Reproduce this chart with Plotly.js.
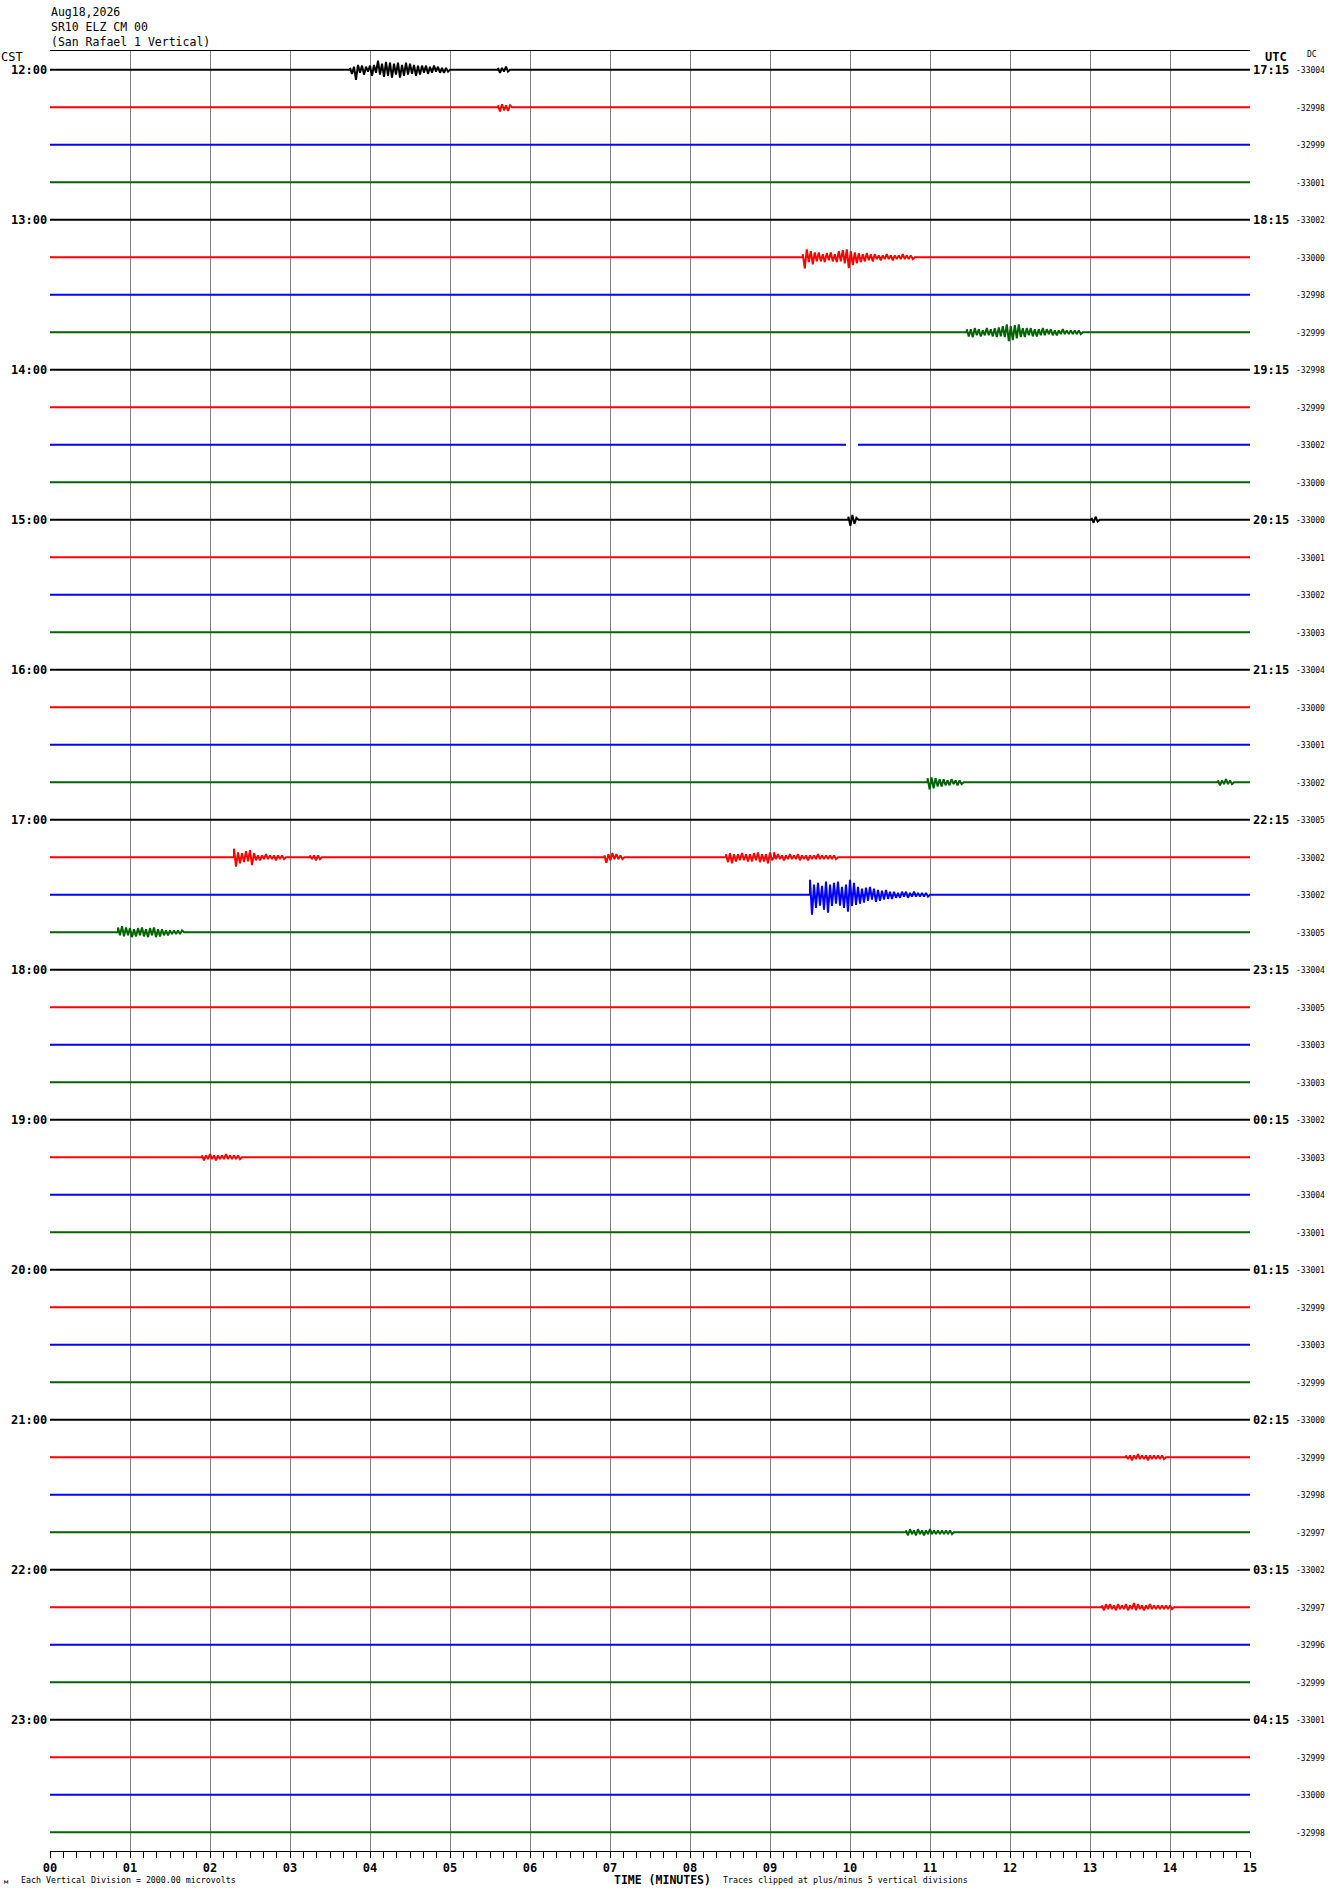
<!DOCTYPE html>
<html>
<head>
<meta charset="utf-8">
<script src="https://cdn.plot.ly/plotly-3.0.1.min.js"></script>
<style>
  html, body { margin: 0; padding: 0; background: #ffffff; }
  #chart { width: 1330px; height: 1894px; }
</style>
</head>
<body>
<div id="chart"></div>
<script>
// ---------------- data ----------------
const headerLines = ['Aug18,2026', 'SR10 ELZ CM 00', '(San Rafael 1 Vertical)'];
const minuteLabels = ['00','01','02','03','04','05','06','07','08','09','10','11','12','13','14','15'];
const minuteValues = [0,1,2,3,4,5,6,7,8,9,10,11,12,13,14,15];
const cstHours = ['12:00','13:00','14:00','15:00','16:00','17:00','18:00','19:00','20:00','21:00','22:00','23:00'];
const utcHours = ['17:15','18:15','19:15','20:15','21:15','22:15','23:15','00:15','01:15','02:15','03:15','04:15'];
const dcValues = [
  -33004,-32998,-32999,-33001,
  -33002,-33000,-32998,-32999,
  -32998,-32999,-33002,-33000,
  -33000,-33001,-33002,-33003,
  -33004,-33000,-33001,-33002,
  -33005,-33002,-33002,-33005,
  -33004,-33005,-33003,-33003,
  -33002,-33003,-33004,-33001,
  -33001,-32999,-33003,-32999,
  -33000,-32999,-32998,-32997,
  -33002,-32997,-32996,-32999,
  -33001,-32999,-33000,-32998
];
const rowPalette = ['#000000', '#ff0000', '#0000ff', '#006400'];

// seismic events: row index, start minute, deflections (fraction of trace spacing) every eventStep minutes
const eventStep = 0.025;
const eventRows   = [0, 0, 1, 5, 7, 12, 12, 19, 19, 21, 21, 21, 21, 21, 22, 23, 29, 37, 39, 41];
const eventStarts = [3.75, 5.6, 5.6, 9.41, 11.46, 9.98, 13.02, 10.97, 14.6, 2.3, 3.25, 6.93, 8.45, 9.05, 9.5, 0.85, 1.9, 13.45, 10.7, 13.15];
const eventWiggles = [
  // 12:00 black
  [0.05,-0.11,0.08,-0.27,0.13,-0.08,0.11,-0.13,0.08,-0.05,0.11,-0.16,0.13,-0.08,
   0.24,-0.13,0.16,-0.19,0.21,-0.16,0.19,-0.21,0.16,-0.13,0.19,-0.21,0.13,-0.16,0.19,-0.13,0.16,-0.11,0.13,-0.16,0.11,-0.13,
   0.11,-0.08,0.11,-0.11,0.08,-0.08,0.11,-0.05,0.08,-0.08,0.05,-0.08,0.05,-0.05],
  [0.05,-0.08,0.05,-0.05,0.08,-0.05],
  // 12:15 red
  [0.05,-0.11,0.08,-0.08,0.05,-0.1,0.05],
  // 13:15 red
  [0.08,-0.3,0.21,-0.13,0.16,-0.19,0.13,-0.11,
   0.13,-0.11,0.08,-0.13,0.11,-0.08,0.13,-0.11,0.08,-0.13,0.16,-0.11,0.19,-0.16,
   0.21,-0.29,
   0.16,-0.21,0.13,-0.16,0.11,-0.13,0.08,-0.11,0.11,-0.08,0.08,-0.11,0.08,-0.05,
   0.05,-0.08,0.05,-0.05,0.08,-0.05,0.05,-0.08,0.05,-0.05,0.05,-0.05,0.08,-0.05,0.05,-0.05,0.05,-0.05],
  // 13:45 green
  [0.08,-0.11,0.08,-0.13,0.11,-0.08,0.08,-0.11,0.05,-0.08,0.11,-0.08,0.08,-0.11,
   0.11,-0.13,0.13,-0.11,0.16,-0.13,
   0.21,-0.24,0.16,-0.21,0.19,-0.16,0.21,-0.13,
   0.11,-0.13,0.11,-0.08,0.11,-0.11,0.08,-0.11,0.08,-0.08,0.11,-0.08,0.08,-0.05,0.08,-0.08,0.05,-0.08,
   0.05,-0.05,0.08,-0.05,0.05,-0.05,0.05,-0.05,0.05,-0.05,0.05,-0.05],
  // 15:00 black
  [0.08,-0.16,0.13,-0.11,0.05],
  [0.05,-0.08,0.08,-0.05],
  // 16:45 green
  [0.11,-0.19,0.13,-0.16,0.11,-0.11,0.08,-0.11,0.08,-0.08,0.05,-0.08,0.08,-0.05,0.05,-0.08,0.05,-0.05],
  [0.05,-0.08,0.05,-0.05,0.08,-0.05,0.05,-0.05],
  // 17:15 red
  [0.23,-0.25,0.13,-0.16,0.11,-0.13,0.16,-0.11,0.19,-0.21,0.11,-0.08,
   0.05,-0.08,0.05,-0.05,0.08,-0.05,0.05,-0.05,0.05,-0.08,0.05,-0.05,0.05,-0.05],
  [0.05,-0.05,0.05,-0.08,0.05,-0.05],
  [0.05,-0.15,0.08,-0.08,0.11,-0.05,0.08,-0.05,0.05,-0.05],
  [0.08,-0.13,0.11,-0.16,0.08,-0.11,0.08,-0.08,0.11,-0.08,0.08,-0.11,0.08,-0.11,0.11,-0.08,0.13,-0.13,0.08,-0.11,0.08,-0.16,0.13,-0.08],
  [0.13,-0.05,0.08,-0.05,0.05,-0.08,0.05,-0.05,0.08,-0.05,0.05,-0.05,0.08,-0.08,0.05,-0.05,0.05,-0.08,0.05,-0.05,0.05,-0.05,0.08,-0.05,0.05,-0.05,0.05,-0.05,0.05,-0.05,0.05,-0.05],
  // 17:30 blue
  [0.4,-0.53,0.27,-0.35,0.32,-0.29,0.24,-0.4,0.35,-0.48,0.27,-0.3,0.32,-0.24,0.35,-0.29,0.21,-0.35,0.27,-0.45,0.4,-0.3,
   0.32,-0.27,0.21,-0.24,0.16,-0.21,0.19,-0.16,0.21,-0.13,0.16,-0.19,0.13,-0.16,0.11,-0.13,0.13,-0.11,0.08,-0.11,
   0.08,-0.08,0.05,-0.08,0.08,-0.05,0.08,-0.08,0.05,-0.05,0.08,-0.05,0.05,-0.05,0.05,-0.05,0.05,-0.05],
  // 17:45 green
  [0.13,-0.08,0.16,-0.11,0.13,-0.08,0.11,-0.13,
   0.08,-0.11,0.11,-0.08,0.13,-0.11,0.08,-0.13,0.11,-0.08,0.13,-0.13,0.08,-0.11,0.08,-0.08,
   0.05,-0.08,0.05,-0.05,0.05,-0.05,0.05,-0.05,0.05],
  // 19:15 red
  [0.05,-0.08,0.05,-0.05,0.08,-0.05,0.05,-0.08,0.05,-0.05,0.05,-0.05,0.08,-0.05,0.05,-0.05,0.05,-0.05,0.05,-0.05],
  // 21:15 red
  [0.05,-0.05,0.05,-0.08,0.05,-0.05,0.08,-0.05,0.05,-0.05,0.05,-0.08,0.05,-0.05,0.05,-0.05,0.05,-0.05,0.05,-0.05],
  // 21:45 green
  [0.05,-0.08,0.08,-0.05,0.05,-0.08,0.08,-0.05,0.05,-0.08,0.05,-0.05,0.08,-0.05,0.05,-0.05,0.05,-0.05,0.05,-0.05,0.05,-0.05,0.05,-0.05],
  // 22:15 red
  [0.05,-0.08,0.08,-0.05,0.08,-0.05,0.05,-0.08,0.08,-0.05,0.05,-0.05,0.08,-0.08,0.05,-0.05,0.11,-0.08,0.08,-0.05,0.05,-0.08,0.05,-0.05,0.08,-0.05,0.05,-0.05,0.05,-0.05,0.05,-0.05,0.05,-0.05,0.05,-0.05]
];
// data gaps
const gapRows = [10];
const gapStarts = [9.95];
const gapEnds = [10.1];

// ---------------- build ----------------
const ROWS = dcValues.length;
const traces = [];
for (let r = 0; r < ROWS; r++) {
  const base = -r;
  const feats = [];
  eventRows.forEach((er, i) => { if (er === r) feats.push({type: 'ev', s: eventStarts[i], w: eventWiggles[i]}); });
  gapRows.forEach((gr, i) => { if (gr === r) feats.push({type: 'gap', s: gapStarts[i], e: gapEnds[i]}); });
  feats.sort((a, b) => a.s - b.s);
  const xs = [0], ys = [base];
  feats.forEach(f => {
    if (f.type === 'ev') {
      xs.push(f.s); ys.push(base);
      f.w.forEach((v, k) => { xs.push(f.s + k * eventStep); ys.push(base + v); });
      xs.push(f.s + f.w.length * eventStep); ys.push(base);
    } else {
      xs.push(f.s); ys.push(base);
      xs.push(null); ys.push(null);
      xs.push(f.e); ys.push(base);
    }
  });
  xs.push(15); ys.push(base);
  traces.push({
    type: 'scatter', mode: 'lines', x: xs, y: ys,
    line: {color: rowPalette[r % 4], width: 2},
    hoverinfo: 'skip', showlegend: false, connectgaps: false
  });
}

// geometry helpers for annotation placement (pixels -> paper)
const L = 50, T = 51, W = 1200, H = 1800;
const px = v => (v - L) / W;
const py = v => 1 - (v - T) / H;

const mono = 'DejaVu Sans Mono, monospace';
const ann = [];
headerLines.forEach((t, i) => {
  ann.push({text: t, xref: 'paper', yref: 'paper', x: px(49), y: py(12 + i * 15), xanchor: 'left', yanchor: 'middle',
            showarrow: false, font: {family: mono, size: 11.5, color: '#000'}});
});
ann.push({text: 'CST', xref: 'paper', yref: 'paper', x: px(-1), y: py(57), xanchor: 'left', yanchor: 'middle',
          showarrow: false, font: {family: mono, size: 12, color: '#000'}});
ann.push({text: 'UTC', xref: 'paper', yref: 'paper', x: px(1263), y: py(57), xanchor: 'left', yanchor: 'middle',
          showarrow: false, font: {family: mono, size: 12, color: '#000', weight: 'bold'}});
ann.push({text: 'DC', xref: 'paper', yref: 'paper', x: px(1305), y: py(54), xanchor: 'left', yanchor: 'middle',
          showarrow: false, font: {family: mono, size: 8, color: '#000'}});
cstHours.forEach((t, i) => {
  ann.push({text: t, xref: 'paper', yref: 'y', x: px(49), y: -4 * i, xanchor: 'right', yanchor: 'middle',
            showarrow: false, font: {family: mono, size: 12, color: '#000', weight: 'bold'}});
});
utcHours.forEach((t, i) => {
  ann.push({text: t, xref: 'paper', yref: 'y', x: px(1251), y: -4 * i, xanchor: 'left', yanchor: 'middle',
            showarrow: false, font: {family: mono, size: 12, color: '#000', weight: 'bold'}});
});
dcValues.forEach((v, i) => {
  ann.push({text: String(v), xref: 'paper', yref: 'y', x: px(1294), y: -i, yshift: -1, xanchor: 'left', yanchor: 'middle',
            showarrow: false, font: {family: mono, size: 8, color: '#000'}});
});
ann.push({text: 'TIME (MINUTES)', xref: 'paper', yref: 'paper', x: px(662), y: py(1880), xanchor: 'center', yanchor: 'middle',
          showarrow: false, font: {family: mono, size: 11.5, color: '#000', weight: 'bold'}});
ann.push({text: 'Each Vertical Division = 2000.00 microvolts', xref: 'paper', yref: 'paper', x: px(19), y: py(1880),
          xanchor: 'left', yanchor: 'middle', showarrow: false, font: {family: mono, size: 8.3, color: '#000'}});
ann.push({text: 'Traces clipped at plus/minus 5 vertical divisions', xref: 'paper', yref: 'paper', x: px(721), y: py(1880),
          xanchor: 'left', yanchor: 'middle', showarrow: false, font: {family: mono, size: 8.3, color: '#000'}});
ann.push({text: 'м', xref: 'paper', yref: 'paper', x: px(2), y: py(1882),
          xanchor: 'left', yanchor: 'middle', showarrow: false, font: {family: mono, size: 7, color: '#000'}});

const layout = {
  width: 1330, height: 1894,
  margin: {l: L, r: 1330 - L - W, t: T, b: 1894 - T - H, pad: 0},
  paper_bgcolor: '#ffffff', plot_bgcolor: '#ffffff',
  showlegend: false, hovermode: false,
  xaxis: {
    range: [0, 15], tickmode: 'array', tickvals: minuteValues, ticktext: minuteLabels,
    ticks: 'outside', ticklen: 6, tickwidth: 1, tickcolor: '#000',
    tickfont: {family: mono, size: 12, color: '#000', weight: 'bold'},
    showgrid: true, gridcolor: '#808080', gridwidth: 1,
    zeroline: false, showline: true, linecolor: '#000', linewidth: 1, mirror: true,
    minor: {dtick: 1 / 6, tick0: 0, ticks: 'outside', ticklen: 6, tickwidth: 1, tickcolor: '#000', showgrid: false},
    fixedrange: true
  },
  yaxis: {
    range: [-47.5, 0.5], showgrid: false, zeroline: false, showticklabels: false, ticks: '',
    showline: false, fixedrange: true
  },
  annotations: ann
};

Plotly.newPlot('chart', traces, layout, {staticPlot: true, displayModeBar: false});
</script>
</body>
</html>
